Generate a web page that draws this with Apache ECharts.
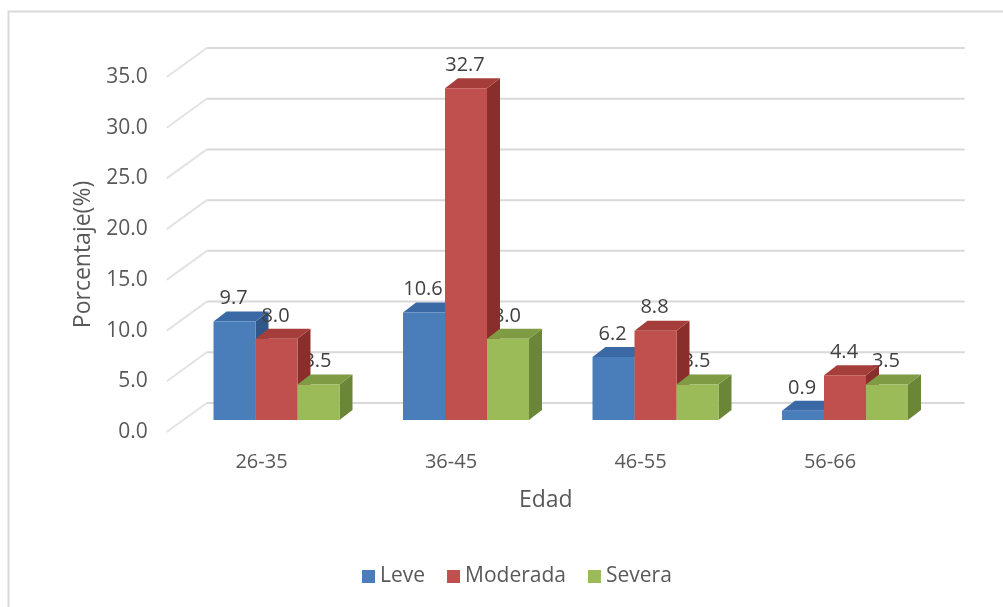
<!DOCTYPE html>
<html>
<head>
<meta charset="utf-8">
<script src="https://cdn.jsdelivr.net/npm/echarts@6/dist/echarts.min.js"></script>
<style>
  html, body { margin: 0; padding: 0; background: #ffffff; }
  #chart { width: 1003px; height: 607px; }
</style>
</head>
<body>
<div id="chart"></div>
<script>
// Age groups and the share (%) of each severity level
const categories = ['26-35', '36-45', '46-55', '56-66'];
const leve = [9.7, 10.6, 6.2, 0.9];
const moderada = [8.0, 32.7, 8.8, 4.4];
const severa = [3.5, 8.0, 3.5, 3.5];
const yTicks = [0, 5, 10, 15, 20, 25, 30, 35];

const FONT = '"Open Sans", "Noto Sans", sans-serif';
const TEXT = '#595959';

// Oblique projection offsets (pixels) relative to the plane the bars stand on
const FRONT = [-15, 12];
const BACK = [25, -17];
const BAR_DEPTH = [13, -10];
const BAR_RATIO = 0.2216;

const palette = {
  Leve:     { front: '#4a7ebb', top: '#3b69a6', side: '#2f5789' },
  Moderada: { front: '#c0504d', top: '#a53e3b', side: '#8a2e2c' },
  Severa:   { front: '#9bbb59', top: '#7f9c45', side: '#6a8636' }
};

function barGeom(k, api) {
  const i = api.value(0), v = api.value(1);
  const top = api.coord([i, v]);
  const base = api.coord([i, 0]);
  const band = api.size([1, 0])[0];
  const w = band * BAR_RATIO;
  const x0 = top[0] - 1.5 * w + k * w;
  return { v: v, x0: x0, x1: x0 + w, yt: top[1], yb: base[1] };
}

function labelEl(g) {
  return {
    type: 'text',
    x: (g.x0 + g.x1) / 2 - 1,
    y: g.yt + BAR_DEPTH[1] - 13,
    style: {
      text: g.v.toFixed(1),
      fill: '#404040',
      font: '20px ' + FONT,
      align: 'center',
      verticalAlign: 'middle'
    }
  };
}

function barRenderer(k, name, withLabel) {
  const c = palette[name];
  return function (params, api) {
    const g = barGeom(k, api);
    const dx = BAR_DEPTH[0], dy = BAR_DEPTH[1];
    const children = [
      { type: 'polygon', shape: { points: [[g.x1, g.yt], [g.x1 + dx, g.yt + dy], [g.x1 + dx, g.yb + dy], [g.x1, g.yb]] },
        style: { fill: c.side } },
      { type: 'polygon', shape: { points: [[g.x0, g.yt], [g.x1, g.yt], [g.x1 + dx, g.yt + dy], [g.x0 + dx, g.yt + dy]] },
        style: { fill: c.top } },
      { type: 'rect', shape: { x: g.x0, y: g.yt, width: g.x1 - g.x0, height: g.yb - g.yt },
        style: { fill: c.front } }
    ];
    if (withLabel) children.push(labelEl(g));
    return { type: 'group', children: children };
  };
}

function labelRenderer(k) {
  return function (params, api) {
    return labelEl(barGeom(k, api));
  };
}

// Back wall gridlines plus the receding floor lines on the left side
function wallRenderer(params, api) {
  const v = api.value(0);
  const band = api.size([1, 0])[0];
  const left = api.coord([0, v])[0] - band / 2;
  const right = api.coord([categories.length - 1, v])[0] + band / 2;
  const y = api.coord([0, v])[1];
  return {
    type: 'group',
    children: [
      { type: 'line', shape: { x1: left + BACK[0], y1: y + BACK[1], x2: right + BACK[0], y2: y + BACK[1] },
        style: { stroke: '#d9d9d9', lineWidth: 2 } },
      { type: 'line', shape: { x1: left + FRONT[0], y1: y + FRONT[1], x2: left + BACK[0], y2: y + BACK[1] },
        style: { stroke: '#e3e3e3', lineWidth: 2 } }
    ]
  };
}

const toData = arr => arr.map((v, i) => [i, v]);

const option = {
  animation: false,
  color: [palette.Leve.front, palette.Moderada.front, palette.Severa.front],
  graphic: [{
    type: 'rect',
    shape: { x: 8.5, y: 11.5, width: 1010, height: 620 },
    style: { fill: 'none', stroke: '#d9d9d9', lineWidth: 2 },
    silent: true
  }],
  grid: [
    // plane the bars stand on
    { left: 181.75, right: 63.25, top: 65, bottom: 187 },
    // front plane carrying the axis labels
    { left: 166.75, right: 78.25, top: 77, bottom: 175 }
  ],
  xAxis: [
    { type: 'category', gridIndex: 0, data: categories, show: false },
    {
      type: 'category', gridIndex: 1, data: categories,
      axisLine: { show: false }, axisTick: { show: false },
      axisLabel: { color: TEXT, fontSize: 20, fontFamily: FONT, margin: 20 },
      name: 'Edad', nameLocation: 'middle', nameGap: 57,
      nameTextStyle: { color: TEXT, fontSize: 23, fontFamily: FONT }
    }
  ],
  yAxis: [
    { type: 'value', gridIndex: 0, min: 0, max: 35, interval: 5, show: false },
    {
      type: 'value', gridIndex: 1, min: 0, max: 35, interval: 5,
      axisLine: { show: false }, axisTick: { show: false }, splitLine: { show: false },
      axisLabel: { color: TEXT, fontSize: 21, fontFamily: FONT, margin: 19,
        formatter: v => v.toFixed(1) },
      name: 'Porcentaje(%)', nameLocation: 'middle', nameGap: 68,
      nameTextStyle: { color: TEXT, fontSize: 23, fontFamily: FONT }
    }
  ],
  legend: {
    data: ['Leve', 'Moderada', 'Severa'],
    left: 357, top: 561,
    icon: 'rect', itemWidth: 13, itemHeight: 13, itemGap: 22,
    textStyle: { color: TEXT, fontSize: 21, fontFamily: FONT }
  },
  series: [
    { type: 'custom', name: 'walls', silent: true, z: 1, xAxisIndex: 0, yAxisIndex: 0,
      data: yTicks.map(v => [v]), encode: { y: 0 }, renderItem: wallRenderer },
    { type: 'custom', name: 'Leve', z: 2, xAxisIndex: 0, yAxisIndex: 0,
      itemStyle: { color: palette.Leve.front },
      data: toData(leve), encode: { x: 0, y: 1 }, renderItem: barRenderer(0, 'Leve', true) },
    { type: 'custom', name: 'severaLabels', silent: true, z: 3, xAxisIndex: 0, yAxisIndex: 0,
      data: toData(severa), encode: { x: 0, y: 1 }, renderItem: labelRenderer(2) },
    { type: 'custom', name: 'Moderada', z: 4, xAxisIndex: 0, yAxisIndex: 0,
      itemStyle: { color: palette.Moderada.front },
      data: toData(moderada), encode: { x: 0, y: 1 }, renderItem: barRenderer(1, 'Moderada', true) },
    { type: 'custom', name: 'Severa', z: 5, xAxisIndex: 0, yAxisIndex: 0,
      itemStyle: { color: palette.Severa.front },
      data: toData(severa), encode: { x: 0, y: 1 }, renderItem: barRenderer(2, 'Severa', false) }
  ]
};

const chart = echarts.init(document.getElementById('chart'), null, { renderer: 'canvas' });
chart.setOption(option);
</script>
</body>
</html>
